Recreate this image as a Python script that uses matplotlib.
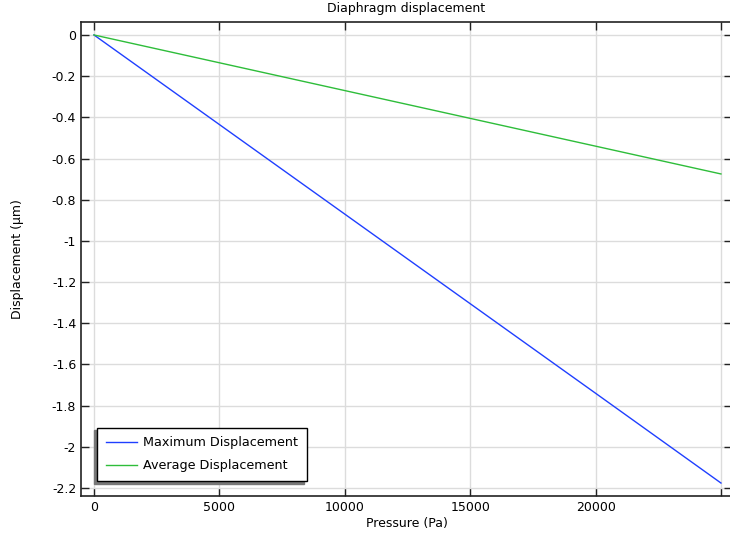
import matplotlib
matplotlib.use("Agg")
import matplotlib.pyplot as plt

pressure = [0, 5000, 10000, 15000, 20000, 25000]
max_disp = [0, -0.435, -0.870, -1.305, -1.740, -2.176]
avg_disp = [0, -0.135, -0.270, -0.405, -0.540, -0.675]

xticks = [0, 5000, 10000, 15000, 20000]
yticks = [0, -0.2, -0.4, -0.6, -0.8, -1, -1.2, -1.4, -1.6, -1.8, -2, -2.2]
ytick_labels = ["0", "-0.2", "-0.4", "-0.6", "-0.8", "-1", "-1.2", "-1.4", "-1.6", "-1.8", "-2", "-2.2"]

plt.rcParams['font.family'] = ['DejaVu Sans']
fig = plt.figure(figsize=(7.3, 5.39), dpi=100)
ax = fig.add_axes([81/730, 1 - 496/539, (732 - 81)/730, (496 - 22)/539])

ax.plot(pressure, max_disp, color='#1f3fff', lw=1, label='Maximum Displacement')
ax.plot(pressure, avg_disp, color='#2ebd3a', lw=1, label='Average Displacement')

ax.set_xlim(-518, 25440)
ax.set_ylim(-2.239, 0.063)
ax.set_xticks(xticks + [25000])
ax.set_xticklabels([str(v) for v in xticks] + [""])
ax.set_yticks(yticks)
ax.set_yticklabels(ytick_labels)
ax.grid(True, color='#dcdcdc', lw=1)
ax.tick_params(direction='in', length=6, width=1, labelsize=9, top=True, right=True,
               colors='#222222', labelcolor='black')
for s in ax.spines.values():
    s.set_linewidth(1.2)
    s.set_color('#222222')

ax.set_title('Diaphragm displacement', fontsize=9, pad=7)
ax.set_xlabel('Pressure (Pa)', fontsize=9, labelpad=2)
ax.set_ylabel('Displacement (µm)', fontsize=9, labelpad=20)

leg = ax.legend(loc='lower left', bbox_to_anchor=(0.0246, 0.0316), borderaxespad=0,
                fontsize=9.2, fancybox=False, edgecolor='black', framealpha=1,
                shadow={'ox': -2, 'oy': -2, 'color': '#777777', 'alpha': 1},
                handlelength=2.4, handletextpad=0.5, borderpad=0.7, labelspacing=0.75)
leg.get_frame().set_linewidth(1)

fig.savefig('out.png', dpi=100)
